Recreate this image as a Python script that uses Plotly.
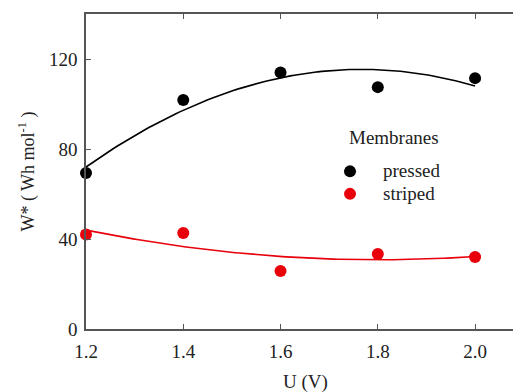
import numpy as np
import plotly.graph_objects as go

# Cell voltage (V)
voltage = [1.2, 1.4, 1.6, 1.8, 2.0]
# Specific energy W* (Wh/mol) per membrane type
w_pressed = [69.3, 101.8, 114.0, 107.5, 111.5]
w_striped = [42.0, 42.7, 25.8, 33.3, 32.0]

x_ticks = [1.2, 1.4, 1.6, 1.8, 2.0]
x_ticklabels = ["1.2", "1.4", "1.6", "1.8", "2.0"]
y_ticks = [0, 40, 80, 120]

FONT = "'Times New Roman', 'Liberation Serif', Times, serif"
RED = "#e8000b"
AXIS = "#555555"

# second-order polynomial trend lines
xs = np.linspace(1.2, 2.0, 100)
fit_p = np.polyval(np.polyfit(voltage, w_pressed, 2), xs)
fit_s = np.polyval(np.polyfit(voltage, w_striped, 2), xs)

fig = go.Figure()
fig.add_trace(go.Scatter(x=xs, y=fit_p, mode="lines", line=dict(color="black", width=1.6),
                         showlegend=False, hoverinfo="skip"))
fig.add_trace(go.Scatter(x=xs, y=fit_s, mode="lines", line=dict(color=RED, width=1.6),
                         showlegend=False, hoverinfo="skip"))
fig.add_trace(go.Scatter(x=voltage, y=w_pressed, mode="markers",
                         name='<span style="font-size:19px">pressed</span>',
                         marker=dict(color="black", size=12), cliponaxis=False))
fig.add_trace(go.Scatter(x=voltage, y=w_striped, mode="markers",
                         name='<span style="font-size:19px">striped</span>',
                         marker=dict(color=RED, size=12), cliponaxis=False))

fig.update_layout(
    width=513, height=392,
    margin=dict(l=86, r=0, t=14, b=63),
    paper_bgcolor="white", plot_bgcolor="white",
    font=dict(family=FONT, size=19, color="#222"),
    legend=dict(
        x=0.541, y=0.552, xanchor="left", yanchor="top",
        bgcolor="rgba(0,0,0,0)",
        font=dict(family=FONT, size=15, color="#222"),
        itemwidth=56, tracegroupgap=0,
    ),
    xaxis=dict(
        range=[1.2, 2.078], tickvals=x_ticks, ticktext=x_ticklabels,
        showline=True, linecolor=AXIS, linewidth=1.5, mirror="ticks",
        ticks="inside", ticklen=5, tickcolor=AXIS,
        showgrid=False, zeroline=False, ticklabelstandoff=4,
        tickfont=dict(family=FONT, size=19),
    ),
    yaxis=dict(
        range=[0, 140], tickvals=y_ticks,
        showline=True, linecolor=AXIS, linewidth=1.5,
        ticks="inside", ticklen=5, tickcolor=AXIS,
        showgrid=False, zeroline=False, ticklabelstandoff=3,
        tickfont=dict(family=FONT, size=19),
        title=dict(text="W* ( Wh mol<sup>-1</sup> )", font=dict(family=FONT, size=18), standoff=10),
    ),
)

fig.add_annotation(text="Membranes", xref="paper", yref="paper",
                   x=(394 - 86) / 427, y=(329 - 137) / 315,
                   xanchor="center", yanchor="middle", showarrow=False,
                   font=dict(family=FONT, size=19))
fig.add_annotation(text="U (V)", xref="paper", yref="paper", x=0.513, y=-0.168,
                   xanchor="center", yanchor="middle", showarrow=False,
                   font=dict(family=FONT, size=19))

fig.write_html("out.html")
